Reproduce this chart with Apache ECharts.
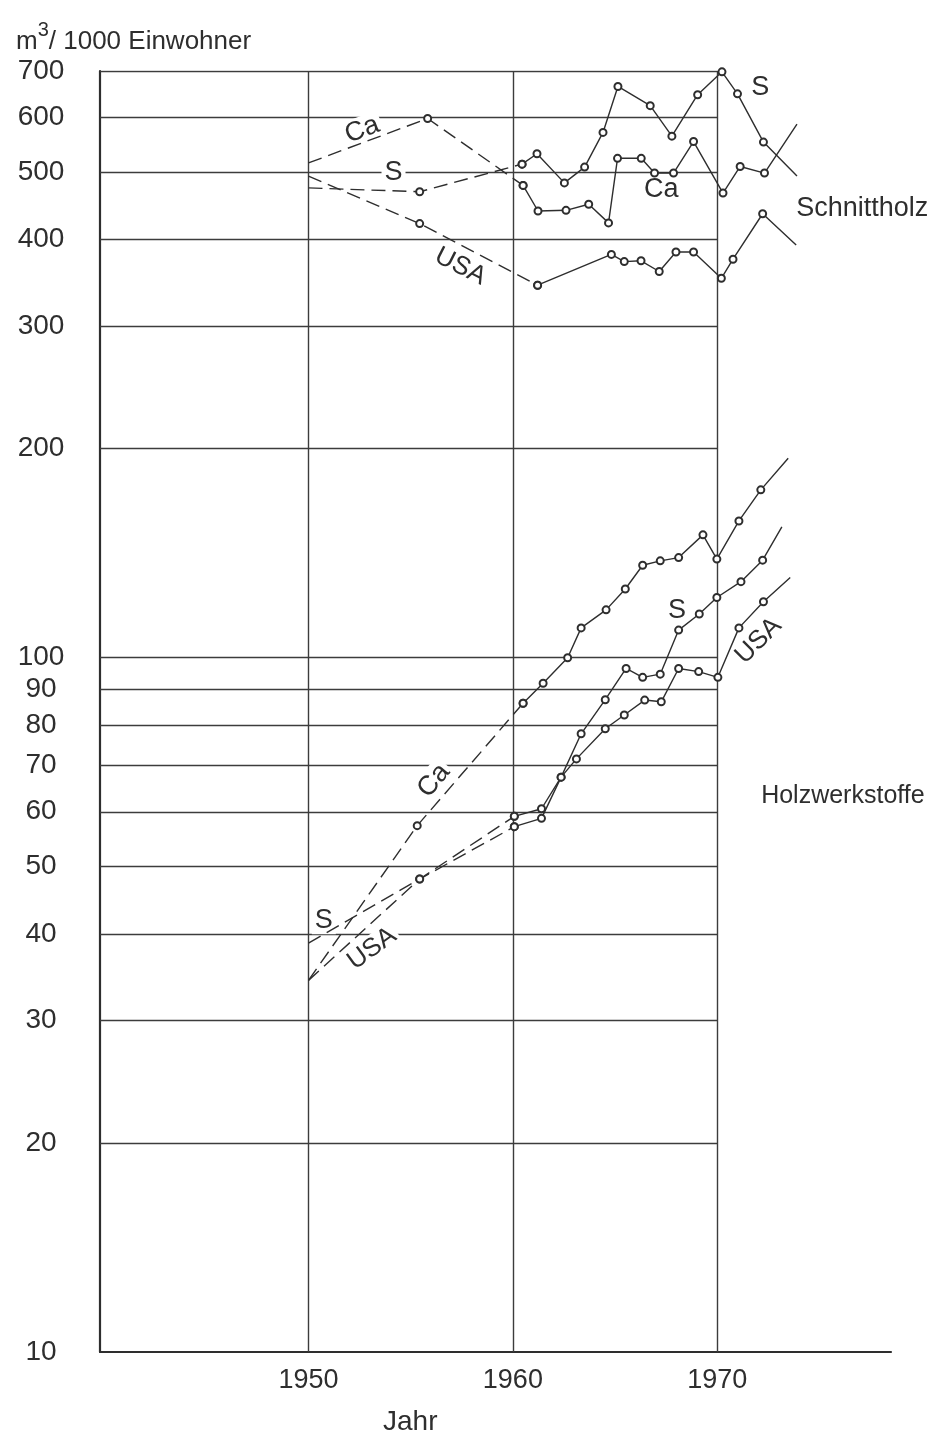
<!DOCTYPE html>
<html><head><meta charset="utf-8">
<script src="https://cdn.jsdelivr.net/npm/echarts@6/dist/echarts.min.js"></script>
<style>html,body{margin:0;padding:0;background:#fff}#c{width:934px;height:1434px}</style>
</head><body><div id="c"></div>
<script>
// ---------- axes / ticks ----------
const xTickLabels = [1950, 1960, 1970];
const yTickLabels = [10, 20, 30, 40, 50, 60, 70, 80, 90, 100, 200, 300, 400, 500, 600, 700];
const gridYears = [1950, 1960, 1970];
const gridValues = [20, 30, 40, 50, 60, 70, 80, 90, 100, 200, 300, 400, 500, 600, 700];
const xMin = 1939.8, xMax = 1978.5, frameEnd = 1970, yMin = 10, yMax = 700;

// ---------- Schnittholz (sawn timber) ----------
const sawCaDashYears  = [1950, 1955.83, 1960.50];
const sawCaDashValues = [516, 598, 479];
const sawCaYears  = [1960.50, 1961.23, 1962.60, 1963.71, 1964.68, 1965.12, 1966.28, 1966.93, 1967.86, 1968.84, 1970.28, 1971.12, 1972.31, 1973.90];
const sawCaValues = [479, 440, 441, 450, 423, 524, 524, 499, 499, 554, 467, 510, 499, 587];

const sawSDashYears  = [1950, 1955.44, 1960.45];
const sawSDashValues = [475, 469, 514];
const sawSYears  = [1960.45, 1961.18, 1962.52, 1963.51, 1964.41, 1965.14, 1966.72, 1967.78, 1969.04, 1970.23, 1970.99, 1972.26, 1973.90];
const sawSValues = [514, 532, 483, 509, 571, 665, 624, 564, 647, 698, 649, 553, 494];

const sawUsaDashYears  = [1950, 1955.44, 1961.21];
const sawUsaDashValues = [494, 422, 344];
const sawUsaYears  = [1961.21, 1964.82, 1965.45, 1966.27, 1967.16, 1967.98, 1968.84, 1970.20, 1970.77, 1972.22, 1973.86];
const sawUsaValues = [344, 381, 372, 373, 360, 384, 384, 352, 375, 436, 393];

// ---------- Holzwerkstoffe (wood-based panels) ----------
const panCaDashYears  = [1950, 1955.32, 1960.50];
const panCaDashValues = [34.3, 57.3, 86.0];
const panCaYears  = [1960.50, 1961.48, 1962.68, 1963.34, 1964.56, 1965.50, 1966.35, 1967.21, 1968.11, 1969.30, 1969.98, 1971.06, 1972.13, 1973.47];
const panCaValues = [86.0, 91.9, 100, 110.4, 117.2, 125.6, 135.9, 137.9, 139.4, 150.3, 138.7, 157.4, 174.5, 193.8];

const panSDashYears  = [1950, 1955.44, 1960.07];
const panSDashValues = [38.8, 48.0, 59.1];
const panSYears  = [1960.07, 1961.40, 1962.36, 1963.34, 1964.52, 1965.54, 1966.35, 1967.21, 1968.11, 1969.12, 1969.98, 1971.16, 1972.22, 1973.16];
const panSValues = [59.1, 60.6, 67.3, 77.7, 87.0, 96.5, 93.7, 94.7, 109.6, 115.6, 122.1, 128.7, 138.2, 154.3];

const panUsaDashYears  = [1950, 1955.44, 1960.07];
const panUsaDashValues = [34.3, 48.0, 57.1];
const panUsaYears  = [1960.07, 1961.40, 1962.36, 1963.11, 1964.52, 1965.45, 1966.45, 1967.26, 1968.11, 1969.09, 1970.03, 1971.06, 1972.26, 1973.57];
const panUsaValues = [57.1, 58.7, 67.3, 71.5, 79.0, 82.7, 86.9, 86.4, 96.5, 95.5, 93.7, 110.4, 120.4, 130.5];

// ---------- in-plot annotations: text, year, value, rotation, anchor, font size ----------
const annotations = [
  ['Ca', 1952.63, 576, 21, 'c', 27],
  ['S', 1954.16, 500, 0, 'c', 27],
  ['USA', 1957.43, 366, -27, 'c', 26],
  ['S', 1972.10, 663, 0, 'c', 27],
  ['Ca', 1967.26, 473, 0, 'c', 27],
  ['Schnittholz', 1973.72, 443, 0, 'l', 27],
  ['Ca', 1956.13, 66.5, 50, 'c', 27],
  ['S', 1950.75, 41.8, 0, 'c', 27],
  ['USA', 1953.11, 38.1, 36, 'c', 26],
  ['S', 1968.03, 116.9, 0, 'c', 27],
  ['USA', 1972.02, 105.8, 45, 'c', 26],
  ['Holzwerkstoffe', 1972.0, 63.1, 0, 'l', 25]
];

const INK = '#2e2e2e';
const FONT = "'Liberation Sans', Arial, sans-serif";

function mk(years, values, dashed) {
  return {
    type: 'line', z: 3, clip: false, silent: true, animation: false,
    symbol: 'emptyCircle', symbolSize: 7, showAllSymbol: true,
    lineStyle: { color: INK, width: 1.4, type: dashed ? [14, 7] : 'solid' },
    itemStyle: { color: INK, borderWidth: 1.1 },
    data: years.map((y, i) => {
      const none = dashed ? i === 0 : i === years.length - 1;
      return none ? { value: [y, values[i]], symbol: 'none' } : [y, values[i]];
    })
  };
}

const gridData = [];
gridValues.forEach(v => gridData.push({ coords: [[xMin, v], [frameEnd, v]] }));
gridYears.forEach(y => gridData.push({ coords: [[y, yMin], [y, yMax]] }));

const chart = echarts.init(document.getElementById('c'), null, { renderer: 'canvas' });
chart.setOption({
  backgroundColor: '#fff',
  animation: false,
  title: [
    {
      left: 11, top: 15,
      text: '{a|m}{s|3}{a|/ 1000 Einwohner}',
      textStyle: {
        fontWeight: 'normal',
        rich: {
          a: { fontFamily: FONT, fontSize: 26, fontWeight: 'normal', color: INK, lineHeight: 35, verticalAlign: 'bottom' },
          s: { fontFamily: FONT, fontSize: 20, fontWeight: 'normal', color: INK, lineHeight: 35, verticalAlign: 'top' }
        }
      }
    },
    {
      left: 378, top: 1403, text: 'Jahr',
      textStyle: { fontFamily: FONT, fontSize: 28, fontWeight: 'normal', color: INK }
    }
  ],
  grid: { left: 100, right: 43, top: 71, bottom: 82, containLabel: false },
  xAxis: {
    type: 'value', min: xMin, max: xMax,
    axisLine: { show: true, lineStyle: { color: INK, width: 2.2 } },
    axisTick: { show: false },
    splitLine: { show: false },
    axisLabel: {
      customValues: xTickLabels, formatter: v => String(v), margin: 15,
      fontFamily: FONT, fontSize: 27, color: INK
    }
  },
  yAxis: {
    type: 'log', logBase: 10, min: yMin, max: yMax,
    axisLine: { show: true, onZero: false, lineStyle: { color: INK, width: 2.2 } },
    axisTick: { show: false },
    splitLine: { show: false },
    axisLabel: { show: false }
  },
  series: [
    {
      type: 'lines', coordinateSystem: 'cartesian2d', silent: true, z: 1,
      lineStyle: { color: '#3c3c3c', width: 1.4, opacity: 1 },
      data: gridData
    },
    {
      type: 'scatter', z: 2, silent: true, symbolSize: 0,
      itemStyle: { opacity: 1 },
      label: {
        show: true, position: 'left', distance: 59, align: 'center', verticalAlign: 'middle',
        fontFamily: FONT, fontSize: 28, color: INK,
        formatter: p => String(Math.round(p.value[1]))
      },
      data: yTickLabels.map(v => [xMin, v])
    },
    {
      type: 'scatter', z: 2, silent: true, symbolSize: 0,
      itemStyle: { opacity: 1 },
      label: {
        show: true, fontFamily: FONT, fontSize: 26, color: INK,
        backgroundColor: '#fff', padding: [0, 3]
      },
      data: annotations.map(a => ({
        value: [a[1], a[2]],
        label: a[4] === 'l'
          ? { formatter: a[0], position: 'right', distance: 0, rotate: a[3], fontSize: a[5], color: INK, backgroundColor: 'transparent' }
          : { formatter: a[0], position: 'inside', rotate: a[3], fontSize: a[5], color: INK }
      }))
    },
    mk(sawCaDashYears, sawCaDashValues, true),
    mk(sawCaYears, sawCaValues, false),
    mk(sawSDashYears, sawSDashValues, true),
    mk(sawSYears, sawSValues, false),
    mk(sawUsaDashYears, sawUsaDashValues, true),
    mk(sawUsaYears, sawUsaValues, false),
    mk(panCaDashYears, panCaDashValues, true),
    mk(panCaYears, panCaValues, false),
    mk(panSDashYears, panSDashValues, true),
    mk(panSYears, panSValues, false),
    mk(panUsaDashYears, panUsaDashValues, true),
    mk(panUsaYears, panUsaValues, false)
  ]
});
</script></body></html>
